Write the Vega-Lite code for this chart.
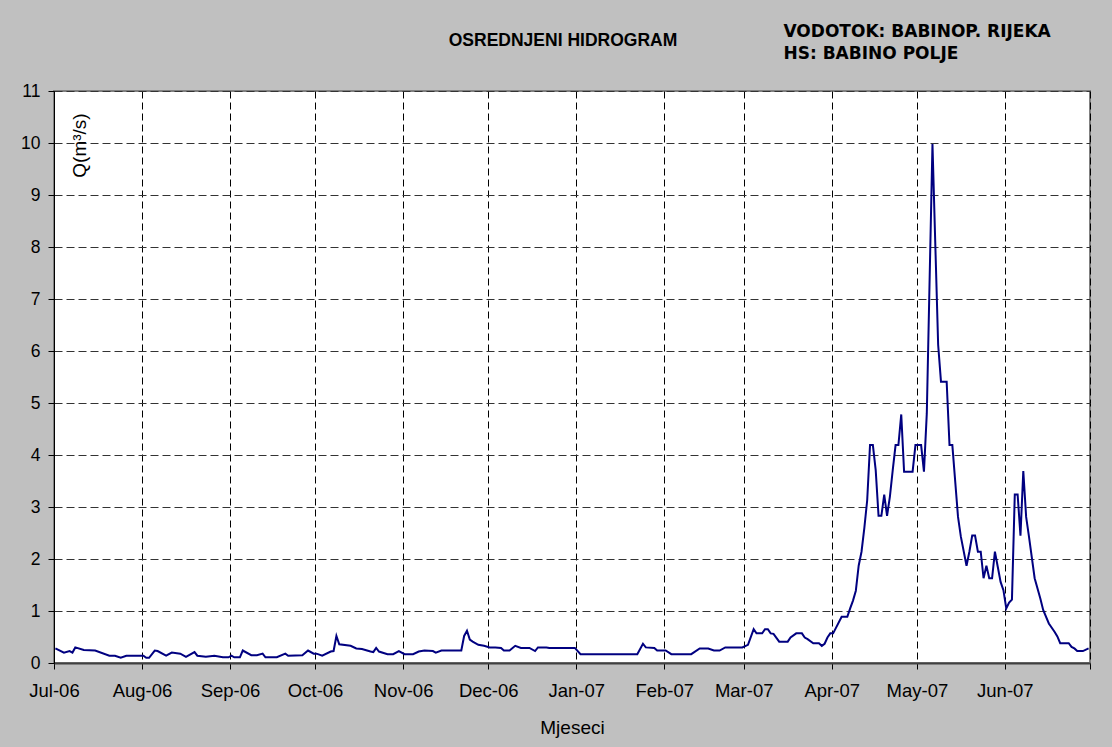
{
  "$schema": "https://vega.github.io/schema/vega-lite/v6.json",
  "width": 1036,
  "height": 572,
  "autosize": {"type": "none"},
  "padding": {"left": 54, "top": 91, "right": 22, "bottom": 84},
  "background": "#c0c0c0",
  "config": {
    "view": {"fill": "white", "stroke": "#808080", "strokeWidth": 2},
    "font": "Liberation Sans"
  },
  "title": {
    "text": "OSREDNJENI HIDROGRAM",
    "anchor": "middle",
    "frame": "group",
    "dx": -9,
    "offset": -41,
    "baseline": "alphabetic",
    "font": "Liberation Sans",
    "fontSize": 17.5,
    "fontWeight": "bold",
    "color": "#000"
  },
  "layer": [
    {
      "data": {
        "values": [
          {"d": "2006-07-01T12:00", "q": 0.28},
          {"d": "2006-07-04T12:00", "q": 0.20},
          {"d": "2006-07-06T12:00", "q": 0.23},
          {"d": "2006-07-07T12:00", "q": 0.20},
          {"d": "2006-07-08T12:00", "q": 0.30},
          {"d": "2006-07-11T12:00", "q": 0.25},
          {"d": "2006-07-15T12:00", "q": 0.24},
          {"d": "2006-07-20T12:00", "q": 0.14},
          {"d": "2006-07-22T12:00", "q": 0.14},
          {"d": "2006-07-24T12:00", "q": 0.10},
          {"d": "2006-07-26T12:00", "q": 0.14},
          {"d": "2006-08-01T12:00", "q": 0.14},
          {"d": "2006-08-02T12:00", "q": 0.10},
          {"d": "2006-08-03T12:00", "q": 0.10},
          {"d": "2006-08-05T12:00", "q": 0.24},
          {"d": "2006-08-06T12:00", "q": 0.23},
          {"d": "2006-08-09T12:00", "q": 0.14},
          {"d": "2006-08-11T12:00", "q": 0.20},
          {"d": "2006-08-14T12:00", "q": 0.18},
          {"d": "2006-08-16T12:00", "q": 0.12},
          {"d": "2006-08-19T12:00", "q": 0.21},
          {"d": "2006-08-20T12:00", "q": 0.14},
          {"d": "2006-08-23T12:00", "q": 0.12},
          {"d": "2006-08-26T12:00", "q": 0.14},
          {"d": "2006-08-29T12:00", "q": 0.11},
          {"d": "2006-08-31T12:00", "q": 0.11},
          {"d": "2006-09-01T12:00", "q": 0.14},
          {"d": "2006-09-02T12:00", "q": 0.11},
          {"d": "2006-09-04T12:00", "q": 0.11},
          {"d": "2006-09-05T12:00", "q": 0.24},
          {"d": "2006-09-08T12:00", "q": 0.15},
          {"d": "2006-09-10T12:00", "q": 0.15},
          {"d": "2006-09-12T12:00", "q": 0.18},
          {"d": "2006-09-13T12:00", "q": 0.11},
          {"d": "2006-09-17T12:00", "q": 0.11},
          {"d": "2006-09-20T12:00", "q": 0.18},
          {"d": "2006-09-21T12:00", "q": 0.14},
          {"d": "2006-09-26T12:00", "q": 0.15},
          {"d": "2006-09-28T12:00", "q": 0.24},
          {"d": "2006-09-30T12:00", "q": 0.18},
          {"d": "2006-10-01T12:00", "q": 0.18},
          {"d": "2006-10-03T12:00", "q": 0.14},
          {"d": "2006-10-06T12:00", "q": 0.22},
          {"d": "2006-10-07T12:00", "q": 0.23},
          {"d": "2006-10-08T12:00", "q": 0.52},
          {"d": "2006-10-09T12:00", "q": 0.36},
          {"d": "2006-10-13T12:00", "q": 0.33},
          {"d": "2006-10-15T12:00", "q": 0.28},
          {"d": "2006-10-17T12:00", "q": 0.27},
          {"d": "2006-10-20T12:00", "q": 0.22},
          {"d": "2006-10-21T12:00", "q": 0.21},
          {"d": "2006-10-22T12:00", "q": 0.29},
          {"d": "2006-10-23T12:00", "q": 0.22},
          {"d": "2006-10-26T12:00", "q": 0.17},
          {"d": "2006-10-28T12:00", "q": 0.17},
          {"d": "2006-10-30T12:00", "q": 0.23},
          {"d": "2006-11-01T12:00", "q": 0.17},
          {"d": "2006-11-04T12:00", "q": 0.17},
          {"d": "2006-11-06T12:00", "q": 0.22},
          {"d": "2006-11-08T12:00", "q": 0.24},
          {"d": "2006-11-11T12:00", "q": 0.23},
          {"d": "2006-11-12T12:00", "q": 0.20},
          {"d": "2006-11-14T12:00", "q": 0.24},
          {"d": "2006-11-21T12:00", "q": 0.24},
          {"d": "2006-11-22T12:00", "q": 0.52},
          {"d": "2006-11-23T12:00", "q": 0.62},
          {"d": "2006-11-24T12:00", "q": 0.45},
          {"d": "2006-11-25T12:00", "q": 0.41},
          {"d": "2006-11-27T12:00", "q": 0.35},
          {"d": "2006-11-29T12:00", "q": 0.33},
          {"d": "2006-12-01T12:00", "q": 0.30},
          {"d": "2006-12-03T12:00", "q": 0.30},
          {"d": "2006-12-05T12:00", "q": 0.29},
          {"d": "2006-12-06T12:00", "q": 0.24},
          {"d": "2006-12-08T12:00", "q": 0.24},
          {"d": "2006-12-10T12:00", "q": 0.33},
          {"d": "2006-12-12T12:00", "q": 0.29},
          {"d": "2006-12-15T12:00", "q": 0.29},
          {"d": "2006-12-17T12:00", "q": 0.23},
          {"d": "2006-12-18T12:00", "q": 0.30},
          {"d": "2006-12-21T12:00", "q": 0.30},
          {"d": "2006-12-22T12:00", "q": 0.29},
          {"d": "2006-12-31T12:00", "q": 0.29},
          {"d": "2007-01-02T12:00", "q": 0.17},
          {"d": "2007-01-22T12:00", "q": 0.17},
          {"d": "2007-01-24T12:00", "q": 0.37},
          {"d": "2007-01-25T12:00", "q": 0.30},
          {"d": "2007-01-28T12:00", "q": 0.29},
          {"d": "2007-01-29T12:00", "q": 0.24},
          {"d": "2007-02-01T12:00", "q": 0.24},
          {"d": "2007-02-03T12:00", "q": 0.17},
          {"d": "2007-02-10T12:00", "q": 0.17},
          {"d": "2007-02-13T12:00", "q": 0.28},
          {"d": "2007-02-16T12:00", "q": 0.28},
          {"d": "2007-02-18T12:00", "q": 0.24},
          {"d": "2007-02-20T12:00", "q": 0.24},
          {"d": "2007-02-22T12:00", "q": 0.30},
          {"d": "2007-02-28T12:00", "q": 0.30},
          {"d": "2007-03-02T12:00", "q": 0.35},
          {"d": "2007-03-04T12:00", "q": 0.65},
          {"d": "2007-03-05T12:00", "q": 0.57},
          {"d": "2007-03-07T12:00", "q": 0.57},
          {"d": "2007-03-08T12:00", "q": 0.65},
          {"d": "2007-03-09T12:00", "q": 0.65},
          {"d": "2007-03-10T12:00", "q": 0.57},
          {"d": "2007-03-11T12:00", "q": 0.56},
          {"d": "2007-03-13T12:00", "q": 0.41},
          {"d": "2007-03-16T12:00", "q": 0.41},
          {"d": "2007-03-17T12:00", "q": 0.49},
          {"d": "2007-03-19T12:00", "q": 0.57},
          {"d": "2007-03-21T12:00", "q": 0.57},
          {"d": "2007-03-22T12:00", "q": 0.49},
          {"d": "2007-03-23T12:00", "q": 0.46},
          {"d": "2007-03-25T12:00", "q": 0.38},
          {"d": "2007-03-27T12:00", "q": 0.38},
          {"d": "2007-03-28T12:00", "q": 0.33},
          {"d": "2007-03-29T12:00", "q": 0.37},
          {"d": "2007-03-30T12:00", "q": 0.49},
          {"d": "2007-03-31T12:00", "q": 0.57},
          {"d": "2007-04-01T12:00", "q": 0.57},
          {"d": "2007-04-04T12:00", "q": 0.89},
          {"d": "2007-04-06T12:00", "q": 0.89},
          {"d": "2007-04-07T12:00", "q": 1.05},
          {"d": "2007-04-08T12:00", "q": 1.20},
          {"d": "2007-04-09T12:00", "q": 1.39},
          {"d": "2007-04-10T12:00", "q": 1.87},
          {"d": "2007-04-11T12:00", "q": 2.14},
          {"d": "2007-04-12T12:00", "q": 2.60},
          {"d": "2007-04-13T12:00", "q": 3.13},
          {"d": "2007-04-14T12:00", "q": 4.19},
          {"d": "2007-04-15T12:00", "q": 4.19},
          {"d": "2007-04-16T12:00", "q": 3.71},
          {"d": "2007-04-17T12:00", "q": 2.83},
          {"d": "2007-04-18T12:00", "q": 2.83},
          {"d": "2007-04-19T12:00", "q": 3.24},
          {"d": "2007-04-20T12:00", "q": 2.83},
          {"d": "2007-04-21T12:00", "q": 3.20},
          {"d": "2007-04-22T12:00", "q": 3.71},
          {"d": "2007-04-23T12:00", "q": 4.19},
          {"d": "2007-04-24T12:00", "q": 4.19},
          {"d": "2007-04-25T12:00", "q": 4.78},
          {"d": "2007-04-26T12:00", "q": 3.68},
          {"d": "2007-04-29T12:00", "q": 3.68},
          {"d": "2007-04-30T12:00", "q": 4.19},
          {"d": "2007-05-02T12:00", "q": 4.19},
          {"d": "2007-05-03T12:00", "q": 3.68},
          {"d": "2007-05-04T12:00", "q": 4.80},
          {"d": "2007-05-06T12:00", "q": 9.98},
          {"d": "2007-05-08T12:00", "q": 6.12},
          {"d": "2007-05-09T12:00", "q": 5.41},
          {"d": "2007-05-11T12:00", "q": 5.41},
          {"d": "2007-05-12T12:00", "q": 4.19},
          {"d": "2007-05-13T12:00", "q": 4.19},
          {"d": "2007-05-15T12:00", "q": 2.81},
          {"d": "2007-05-16T12:00", "q": 2.43},
          {"d": "2007-05-18T12:00", "q": 1.87},
          {"d": "2007-05-19T12:00", "q": 2.14},
          {"d": "2007-05-20T12:00", "q": 2.45},
          {"d": "2007-05-21T12:00", "q": 2.45},
          {"d": "2007-05-22T12:00", "q": 2.14},
          {"d": "2007-05-23T12:00", "q": 2.14},
          {"d": "2007-05-24T12:00", "q": 1.63},
          {"d": "2007-05-25T12:00", "q": 1.87},
          {"d": "2007-05-26T12:00", "q": 1.63},
          {"d": "2007-05-27T12:00", "q": 1.63},
          {"d": "2007-05-28T12:00", "q": 2.14},
          {"d": "2007-05-29T12:00", "q": 1.85},
          {"d": "2007-05-30T12:00", "q": 1.56},
          {"d": "2007-05-31T12:00", "q": 1.40},
          {"d": "2007-06-01T12:00", "q": 1.05},
          {"d": "2007-06-02T12:00", "q": 1.16},
          {"d": "2007-06-03T12:00", "q": 1.22},
          {"d": "2007-06-04T12:00", "q": 3.24},
          {"d": "2007-06-05T12:00", "q": 3.24},
          {"d": "2007-06-06T12:00", "q": 2.45},
          {"d": "2007-06-07T12:00", "q": 3.69},
          {"d": "2007-06-08T12:00", "q": 2.81},
          {"d": "2007-06-09T12:00", "q": 2.43},
          {"d": "2007-06-11T12:00", "q": 1.63},
          {"d": "2007-06-13T12:00", "q": 1.24},
          {"d": "2007-06-14T12:00", "q": 1.02},
          {"d": "2007-06-16T12:00", "q": 0.76},
          {"d": "2007-06-18T12:00", "q": 0.60},
          {"d": "2007-06-19T12:00", "q": 0.51},
          {"d": "2007-06-20T12:00", "q": 0.38},
          {"d": "2007-06-23T12:00", "q": 0.38},
          {"d": "2007-06-24T12:00", "q": 0.31},
          {"d": "2007-06-25T12:00", "q": 0.28},
          {"d": "2007-06-26T12:00", "q": 0.23},
          {"d": "2007-06-28T12:00", "q": 0.23},
          {"d": "2007-06-30T12:00", "q": 0.28}
        ]
      },
      "mark": {"type": "line", "color": "#000080", "strokeWidth": 2},
      "encoding": {
        "x": {
          "field": "d",
          "type": "temporal",
          "scale": {"domain": [{"year": 2006, "month": 7, "date": 1}, {"year": 2007, "month": 7, "date": 1}]},
          "axis": {
            "title": "Mjeseci",
            "titleFontSize": 19,
            "titleFontWeight": "normal",
            "titlePadding": 19,
            "titleColor": "#000",
            "format": "%b-%y",
            "tickCount": {"interval": "month", "step": 1},
            "labelExpr": "timeFormat(datum.value, '%Y-%m') == '2007-07' ? '' : timeFormat(datum.value, '%b-%y')",
            "labelFontSize": 18.5,
            "labelColor": "#000",
            "labelFlush": false,
            "labelOverlap": false,
            "labelPadding": 12,
            "tickSize": 6,
            "tickColor": "#000",
            "domainColor": "#404040",
            "domainWidth": 2,
            "grid": true,
            "gridColor": "#000",
            "gridDash": [7, 4]
          }
        },
        "y": {
          "field": "q",
          "type": "quantitative",
          "scale": {"domain": [0, 11], "nice": false},
          "axis": {
            "values": [0, 1, 2, 3, 4, 5, 6, 7, 8, 9, 10, 11],
            "title": "Q(m³/s)",
            "titleAngle": -90,
            "titleX": 31,
            "titleY": 54,
            "titleAlign": "center",
            "titleBaseline": "alphabetic",
            "titleFontSize": 19,
            "titleFontWeight": "normal",
            "titleColor": "#000",
            "labelFontSize": 17.5,
            "labelColor": "#000",
            "labelPadding": 8,
            "tickSize": 6,
            "tickColor": "#000",
            "domainColor": "#000",
            "grid": true,
            "gridColor": "#333",
            "gridDash": [8, 4]
          }
        }
      }
    },
    {
      "data": {"values": [{}]},
      "mark": {
        "type": "text",
        "text": ["VODOTOK: BABINOP. RIJEKA", "HS: BABINO POLJE"],
        "align": "left",
        "baseline": "alphabetic",
        "lineHeight": 22,
        "font": "DejaVu Sans",
        "fontWeight": "bold",
        "fontSize": 17,
        "color": "#000"
      },
      "encoding": {
        "x": {"datum": {"year": 2007, "month": 3, "date": 15}, "type": "temporal"},
        "y": {"datum": 12.04, "type": "quantitative"}
      }
    }
  ]
}
